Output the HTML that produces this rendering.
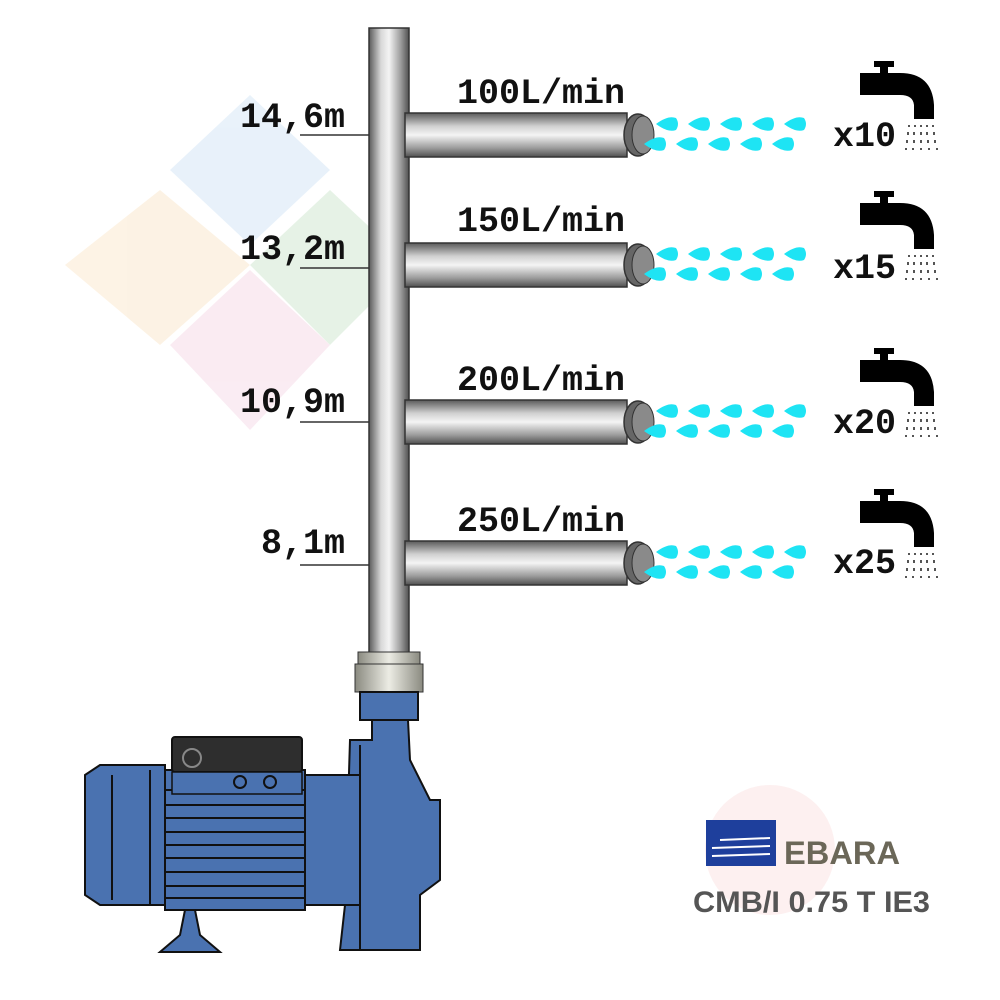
<!DOCTYPE html>
<html><head><meta charset="utf-8"><style>
html,body{margin:0;padding:0;background:#fff}
svg{display:block}
.lbl{font-family:"Liberation Mono",monospace;font-weight:bold;font-size:35px;fill:#111}
</style></head><body>
<svg width="1000" height="1000" viewBox="0 0 1000 1000">
<defs>
<linearGradient id="vp" x1="0" x2="1" y1="0" y2="0">
<stop offset="0" stop-color="#5a5a5a"/><stop offset="0.3" stop-color="#d8d8d8"/><stop offset="0.5" stop-color="#f4f4f4"/><stop offset="0.8" stop-color="#9a9a9a"/><stop offset="1" stop-color="#505050"/></linearGradient>
<linearGradient id="hp" x1="0" x2="0" y1="0" y2="1">
<stop offset="0" stop-color="#5a5a5a"/><stop offset="0.3" stop-color="#d0d0d0"/><stop offset="0.5" stop-color="#f4f4f4"/><stop offset="0.8" stop-color="#9a9a9a"/><stop offset="1" stop-color="#505050"/></linearGradient>
<linearGradient id="nut" x1="0" x2="1"><stop offset="0" stop-color="#8a8a80"/><stop offset="0.5" stop-color="#ececE4"/><stop offset="1" stop-color="#8a8a80"/></linearGradient>
<g id="drop"><path d="M-12 0 Q0 -9 8 -6 Q12 0 8 6 Q0 9 -12 0Z" fill="#1ee4f4"/></g>
<g id="branch">
<rect x="405" y="-22" width="222" height="44" fill="url(#hp)" stroke="#333" stroke-width="1.5"/>
<ellipse cx="638" cy="0" rx="14" ry="21" fill="#666" stroke="#333" stroke-width="1.5"/>
<ellipse cx="643" cy="0" rx="11" ry="19" fill="#8a8a8a" stroke="#333" stroke-width="1"/>
<use href="#drop" x="668" y="-11"/><use href="#drop" x="700" y="-11"/><use href="#drop" x="732" y="-11"/><use href="#drop" x="764" y="-11"/><use href="#drop" x="796" y="-11"/>
<use href="#drop" x="656" y="9"/><use href="#drop" x="688" y="9"/><use href="#drop" x="720" y="9"/><use href="#drop" x="752" y="9"/><use href="#drop" x="784" y="9"/>
</g>
<g id="tap">
<rect x="874" y="-74" width="20" height="6" fill="#000"/>
<rect x="880" y="-70" width="8" height="10" fill="#000"/>
<path d="M860 -62 H900 Q932 -62 934 -30 V-16 H914 V-30 Q913 -40 900 -40 H860 Z" fill="#000"/>
<g fill="#555">
<rect x="908" y="-10" width="2" height="2"/><rect x="914" y="-10" width="2" height="2"/><rect x="920" y="-10" width="2" height="2"/><rect x="926" y="-10" width="2" height="2"/><rect x="932" y="-10" width="2" height="2"/>
<rect x="907" y="-3" width="2" height="3"/><rect x="913" y="-3" width="2" height="3"/><rect x="920" y="-3" width="2" height="3"/><rect x="926" y="-3" width="2" height="3"/><rect x="933" y="-3" width="2" height="3"/>
<rect x="906" y="5" width="2" height="3"/><rect x="913" y="5" width="2" height="3"/><rect x="920" y="5" width="2" height="3"/><rect x="927" y="5" width="2" height="3"/><rect x="934" y="5" width="2" height="3"/>
<rect x="905" y="13" width="2" height="2"/><rect x="912" y="13" width="2" height="2"/><rect x="920" y="13" width="2" height="2"/><rect x="928" y="13" width="2" height="2"/><rect x="936" y="13" width="2" height="2"/>
</g>
</g>
</defs>
<!-- watermark -->
<g opacity="0.15">
<path d="M170 170 L250 95 L330 170 L250 245Z" fill="#6aa8e0"/>
<path d="M65 265 L160 190 L250 265 L160 345Z" fill="#f0b050"/>
<path d="M250 265 L330 190 L410 265 L330 345Z" fill="#60b060"/>
<path d="M170 345 L250 270 L330 345 L250 430Z" fill="#e080b0"/>
</g>
<circle cx="770" cy="850" r="65" fill="#e04040" opacity="0.08"/>
<!-- vertical pipe -->
<rect x="369" y="28" width="40" height="630" fill="url(#vp)" stroke="#333" stroke-width="1.5"/>
<use href="#branch" y="135"/><use href="#branch" y="265"/><use href="#branch" y="422"/><use href="#branch" y="563"/>
<use href="#tap" y="135"/><use href="#tap" y="265"/><use href="#tap" y="422"/><use href="#tap" y="563"/>
<!-- labels -->
<text class="lbl" x="457" y="103">100L/min</text>
<text class="lbl" x="457" y="231">150L/min</text>
<text class="lbl" x="457" y="390">200L/min</text>
<text class="lbl" x="457" y="531">250L/min</text>
<text class="lbl" x="833" y="146">x10</text>
<text class="lbl" x="833" y="278">x15</text>
<text class="lbl" x="833" y="433">x20</text>
<text class="lbl" x="833" y="573">x25</text>
<text class="lbl" x="345" y="127" text-anchor="end">14,6m</text>
<text class="lbl" x="345" y="259" text-anchor="end">13,2m</text>
<text class="lbl" x="345" y="412" text-anchor="end">10,9m</text>
<text class="lbl" x="345" y="553" text-anchor="end">8,1m</text>
<g stroke="#333" stroke-width="1.5">
<line x1="300" y1="135" x2="369" y2="135"/><line x1="300" y1="268" x2="369" y2="268"/><line x1="300" y1="422" x2="369" y2="422"/><line x1="300" y1="565" x2="369" y2="565"/>
</g>
<!-- nut -->
<rect x="358" y="652" width="62" height="12" fill="url(#nut)" stroke="#333"/>
<rect x="355" y="664" width="68" height="28" fill="url(#nut)" stroke="#333"/>
<!-- pump -->
<g fill="#4a72b0" stroke="#111" stroke-width="2">
<rect x="360" y="692" width="58" height="28"/>
<path d="M372 720 H408 L410 760 L430 800 L440 800 L440 880 L420 895 L420 950 H340 L345 905 L350 740 H372 Z"/>
<path d="M305 775 H360 V905 H305Z"/>
<path d="M85 775 L100 765 H165 V905 H100 L85 895Z"/>
<rect x="165" y="770" width="140" height="140"/>
<path d="M185 910 L180 935 L160 952 H220 L200 935 L195 910Z"/>
</g>
<g stroke="#111" stroke-width="2">
<line x1="112" y1="775" x2="112" y2="900"/><line x1="150" y1="770" x2="150" y2="905"/>
<line x1="165" y1="790" x2="305" y2="790"/><line x1="165" y1="805" x2="305" y2="805"/><line x1="165" y1="818" x2="305" y2="818"/><line x1="165" y1="832" x2="305" y2="832"/><line x1="165" y1="845" x2="305" y2="845"/><line x1="165" y1="858" x2="305" y2="858"/><line x1="165" y1="872" x2="305" y2="872"/><line x1="165" y1="886" x2="305" y2="886"/><line x1="165" y1="898" x2="305" y2="898"/>
<line x1="360" y1="745" x2="360" y2="950"/>
</g>
<rect x="172" y="737" width="130" height="35" fill="#2e2e2e" stroke="#111" stroke-width="2" rx="3"/>
<rect x="172" y="772" width="130" height="22" fill="#4a72b0" stroke="#111" stroke-width="1.5"/>
<circle cx="192" cy="758" r="9" fill="none" stroke="#888" stroke-width="2"/>
<circle cx="240" cy="782" r="6" fill="none" stroke="#111" stroke-width="2"/>
<circle cx="270" cy="782" r="6" fill="none" stroke="#111" stroke-width="2"/>
<!-- logo -->
<rect x="706" y="820" width="70" height="46" fill="#1e3f9c"/>
<g stroke="#fff" stroke-width="2"><line x1="720" y1="840" x2="770" y2="838"/><line x1="712" y1="848" x2="770" y2="846"/><line x1="712" y1="856" x2="770" y2="854"/></g>
<text x="784" y="864" font-family="Liberation Sans,sans-serif" font-weight="bold" font-size="32" fill="#6b6758" textLength="116" lengthAdjust="spacingAndGlyphs">EBARA</text>
<text x="693" y="912" font-family="Liberation Sans,sans-serif" font-weight="bold" font-size="30" fill="#555" textLength="237" lengthAdjust="spacingAndGlyphs">CMB/I 0.75 T IE3</text>
</svg>
</body></html>
